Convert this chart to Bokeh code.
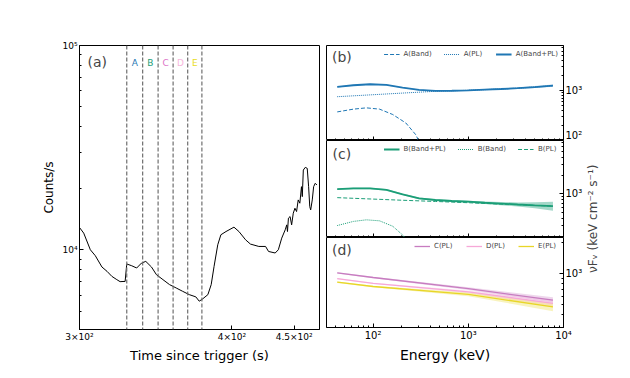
import math
from bokeh.plotting import figure
from bokeh.layouts import row, column
from bokeh.models import FixedTicker, Label, Legend, LegendItem, Span, Range1d
from bokeh.core.properties import value
from bokeh.embed import file_html
from bokeh.resources import INLINE

FONT = "DejaVu Sans"

# ---------------- Panel (a): light curve ----------------
lc_time = [300.0, 302.4, 306.2, 309.1, 313.0, 316.0, 318.9, 321.9, 323.9, 327.0, 328.0, 331.1,
           334.2, 337.3, 340.0, 343.7, 346.9, 351.2, 355.6, 360.1, 364.5, 369.1, 373.7, 376.1,
           378.6, 382.3, 384.7, 386.8, 389.5, 391.8, 395.6, 401.6, 405.4, 410.5, 414.3, 420.9,
           426.3, 428.7, 434.1, 436.7, 439.5, 442.4, 443.7, 444.3, 445.1, 446.5, 447.8, 449.2,
           450.6, 452.0, 453.4, 454.8, 456.2, 456.9, 457.8, 459.5, 461.2, 462.4, 463.4, 464.2,
           465.6, 466.8, 468.2, 469.7]
lc_counts = [12850, 12060, 10000, 9350, 8230, 7840, 7410, 7140, 6980, 7000, 8520, 8350,
             8140, 8610, 8770, 8230, 7550, 7140, 6750, 6500, 6260, 6030, 5880, 5600,
             5750, 6030, 6750, 8290, 10580, 11840, 12280, 12900, 12280, 11190, 10660, 10380,
             10380, 9810, 9640, 10000, 11400, 12520, 13240, 12280, 14280, 14540, 13240, 15100,
             15970, 15380, 17540, 16900, 20360, 18200, 24560, 25320, 25030, 20360, 16260, 15670,
             17540, 20360, 21150, 20750]

interval_edges = [328, 338, 348, 358, 368, 378]
interval_names = ["A", "B", "C", "D", "E"]
interval_colors = ["#1f77b4", "#1b9e77", "#dd77c8", "#f7b6dc", "#e8dc20"]
interval_label_time = [333, 343, 353, 363, 373]
interval_label_counts = [82000] * 5

lc_xrange = (300, 472)
lc_yrange = (4070, 100000)
lc_xticks = [300, 400, 450]
lc_xtick_labels = {300: "3×10²", 400: "4×10²", 450: "4.5×10²"}
lc_yticks = [10000, 100000]
lc_yminor = [5000, 6000, 7000, 8000, 9000, 20000, 30000, 40000, 50000, 60000, 70000, 80000, 90000]
lc_ytick_labels = {10000: "10⁴", 100000: "10⁵"}

# ---------------- Spectral panels ----------------
E_tot = [42, 62, 93, 138, 204, 304, 452, 672, 1000, 1490, 2200, 3300, 5000, 7750]
A_tot = [1165, 1260, 1320, 1280, 1130, 1015, 970, 980, 1000, 1030, 1060, 1100, 1160, 1240]
A_lo = [1135, 1230, 1290, 1250, 1105, 992, 950, 958, 975, 1000, 1025, 1058, 1105, 1170]
A_hi = [1195, 1290, 1350, 1310, 1155, 1038, 990, 1002, 1025, 1062, 1095, 1142, 1215, 1310]
E_pl = [42, 93, 204, 452, 1000, 2200, 3300, 7750]
A_pl = [745, 810, 880, 955, 1000, 1060, 1100, 1235]
E_band_A = [42, 62, 85, 117, 161, 221, 281, 304, 330]
A_band = [371, 421, 447, 421, 329, 223, 130, 95, 70]

B_tot = [1193, 1226, 1226, 1166, 985, 845, 794, 765, 745, 716, 695, 671, 650, 631]
B_lo = [1160, 1195, 1195, 1135, 960, 820, 770, 740, 715, 682, 652, 620, 580, 530]
B_hi = [1225, 1258, 1258, 1197, 1010, 870, 818, 792, 775, 752, 740, 725, 730, 745]
B_pl = [868, 826, 787, 752, 717, 680, 667, 631]
E_band_B = [42, 62, 85, 117, 161, 205, 230, 260]
B_band = [304, 355, 377, 363, 296, 212, 170, 130]

E_d = [42, 100, 1000, 7750]
C_pl = [1013, 915, 716, 554]
C_lo = [1000, 900, 695, 525]
C_hi = [1026, 930, 737, 590]
D_pl = [891, 805, 667, 516]
D_lo = [880, 795, 645, 480]
D_hi = [902, 815, 688, 552]
E_pl_d = [825, 750, 630, 478]
E_lo_d = [812, 738, 605, 435]
E_hi_d = [838, 762, 655, 522]

colA = "#1f77b4"
colB = "#1b9e77"
colC = "#c77cc0"
colD = "#f6a8d8"
colE = "#e8d628"

spec_xrange = (32.4, 10000)
spec_xticks = [100, 1000, 10000]
spec_xminor = [40, 50, 60, 70, 80, 90, 200, 300, 400, 500, 600, 700, 800, 900,
               2000, 3000, 4000, 5000, 6000, 7000, 8000, 9000]
spec_xtick_labels = {100: "10²", 1000: "10³", 10000: "10⁴"}
spec_xtick_blank = {100: "", 1000: "", 10000: ""}
spec_yticks = [100, 1000, 10000]
spec_yminor = [200, 300, 400, 500, 600, 700, 800, 900, 2000, 3000, 4000, 5000, 6000, 7000, 8000, 9000]
spec_ytick_labels = {100: "10²", 1000: "10³", 10000: "10⁴"}
yrange_b = (100, 7800)
yrange_c = (194, 7440)
yrange_d = (303, 2215)


def frac_log(lo, hi, f):
    return 10 ** (math.log10(lo) + f * (math.log10(hi) - math.log10(lo)))


def style_axes(p, lab_size="9px"):
    for ax in p.axis:
        ax.major_tick_in = 4
        ax.major_tick_out = 0
        ax.minor_tick_in = 2
        ax.minor_tick_out = 0
        ax.axis_line_color = "black"
        ax.major_tick_line_color = "black"
        ax.minor_tick_line_color = "black"
        ax.major_label_text_font = FONT
        ax.major_label_text_font_size = lab_size
        ax.major_label_text_color = "black"
        ax.axis_label_text_font = FONT
        ax.axis_label_text_font_style = "normal"
        ax.axis_label_text_color = "black"
        ax.axis_label_text_font_size = "13px"
        ax.major_label_standoff = 2
        ax.axis_label_standoff = 3
    p.xgrid.visible = False
    p.ygrid.visible = False
    p.outline_line_color = "black"
    p.outline_line_alpha = 1.0
    p.background_fill_color = "white"
    p.border_fill_color = "white"


TOP = 45
BOTTOM = 35

# ---- panel a ----
pa = figure(width=322, height=TOP + 285 + BOTTOM, x_axis_type="log", y_axis_type="log",
            x_range=Range1d(*lc_xrange), y_range=Range1d(*lc_yrange),
            output_backend="svg", toolbar_location=None,
            min_border_left=79, min_border_right=3, min_border_top=TOP, min_border_bottom=BOTTOM)
style_axes(pa, "9px")
pa.xaxis.ticker = FixedTicker(ticks=lc_xticks, minor_ticks=[])
pa.xaxis.major_label_overrides = lc_xtick_labels
pa.yaxis.ticker = FixedTicker(ticks=lc_yticks, minor_ticks=lc_yminor)
pa.yaxis.major_label_overrides = lc_ytick_labels
pa.xaxis.axis_label = "Time since trigger (s)"
pa.xaxis.axis_label_text_font_size = "13px"
pa.yaxis.axis_label = "Counts/s"
pa.yaxis.axis_label_text_font_size = "12px"

for t in interval_edges:
    pa.add_layout(Span(location=t, dimension="height", line_color="#6e6e6e",
                       line_dash="4 2", line_width=1.2))
pa.line(lc_time, lc_counts, line_color="black", line_width=1.0)
pa.text(x=interval_label_time, y=interval_label_counts, text=interval_names,
        text_color=interval_colors, text_align="center", text_baseline="middle",
        text_font_size="9px", text_font=value(FONT))
pa.add_layout(Label(x=frac_log(*lc_xrange, 0.074), y=frac_log(*lc_yrange, 0.941), text="(a)",
                    text_align="center", text_baseline="middle", text_font_size="14px",
                    text_font=FONT))

# ---- spectral panels ----
shared_x = Range1d(*spec_xrange)


def spec_fig(height, yr, top, bottom, show_x):
    p = figure(width=4 + 241 + 18, height=height, x_axis_type="log", y_axis_type="log",
               x_range=shared_x, y_range=Range1d(*yr), y_axis_location="right",
               output_backend="svg", toolbar_location=None,
               min_border_left=4, min_border_right=18, min_border_top=top,
               min_border_bottom=bottom)
    style_axes(p, "10px")
    p.xaxis.ticker = FixedTicker(ticks=spec_xticks, minor_ticks=spec_xminor)
    p.yaxis.ticker = FixedTicker(ticks=spec_yticks, minor_ticks=spec_yminor)
    p.yaxis.major_label_overrides = spec_ytick_labels
    if show_x:
        p.xaxis.major_label_overrides = spec_xtick_labels
    else:
        p.xaxis.major_label_overrides = spec_xtick_blank
        p.xaxis.major_label_standoff = 0
    return p


def add_legend(p, items):
    lg = Legend(items=[LegendItem(label=l, renderers=[r]) for l, r in items],
                orientation="horizontal", location="top_right",
                background_fill_alpha=0, border_line_alpha=0,
                label_text_font_size="7px", label_text_font=FONT,
                glyph_width=16, glyph_height=8, spacing=12, padding=2, margin=3,
                label_standoff=4, label_height=8)
    p.add_layout(lg)


def panel_label(p, yr, txt, fy):
    p.add_layout(Label(x=frac_log(*spec_xrange, 0.065), y=frac_log(*yr, fy), text=txt,
                       text_align="center", text_baseline="middle", text_font_size="14px",
                       text_font=FONT))


# panel b
pb = spec_fig(TOP + 95, yrange_b, TOP, 0, False)
pb.varea(x=E_tot, y1=A_lo, y2=A_hi, fill_color=colA, fill_alpha=0.35)
rb1 = pb.line(E_band_A, A_band, line_color=colA, line_dash="4 2", line_width=1.0)
rb2 = pb.line(E_pl, A_pl, line_color=colA, line_dash="1 1", line_width=1.0)
rb3 = pb.line(E_tot, A_tot, line_color=colA, line_width=1.8)
add_legend(pb, [("A(Band)", rb1), ("A(PL)", rb2), ("A(Band+PL)", rb3)])
panel_label(pb, yrange_b, "(b)", 0.877)

# panel c
pc = spec_fig(97, yrange_c, 0, 0, False)
pc.varea(x=E_tot, y1=B_lo, y2=B_hi, fill_color=colB, fill_alpha=0.4)
rc3 = pc.line(E_tot, B_tot, line_color=colB, line_width=1.8)
rc1 = pc.line(E_band_B, B_band, line_color=colB, line_dash="1 1", line_width=1.0)
rc2 = pc.line(E_pl, B_pl, line_color=colB, line_dash="4 2", line_width=1.0)
add_legend(pc, [("B(Band+PL)", rc3), ("B(Band)", rc1), ("B(PL)", rc2)])
panel_label(pc, yrange_c, "(c)", 0.863)

# panel d
pd_ = spec_fig(93 + BOTTOM, yrange_d, 0, BOTTOM, True)
pd_.varea(x=E_d, y1=C_lo, y2=C_hi, fill_color=colC, fill_alpha=0.3)
pd_.varea(x=E_d, y1=D_lo, y2=D_hi, fill_color=colD, fill_alpha=0.3)
pd_.varea(x=E_d, y1=E_lo_d, y2=E_hi_d, fill_color=colE, fill_alpha=0.3)
rd1 = pd_.line(E_d, C_pl, line_color=colC, line_width=1.3)
rd2 = pd_.line(E_d, D_pl, line_color=colD, line_width=1.3)
rd3 = pd_.line(E_d, E_pl_d, line_color=colE, line_width=1.3)
add_legend(pd_, [("C(PL)", rd1), ("D(PL)", rd2), ("E(PL)", rd3)])
panel_label(pd_, yrange_d, "(d)", 0.86)
pd_.xaxis.axis_label = "Energy (keV)"
pd_.xaxis.axis_label_text_font_size = "14px"

# ---- shared y-axis title for the spectral column ----
plab = figure(width=28, height=TOP + 285 + BOTTOM, x_range=Range1d(0, 1), y_range=Range1d(0, 1),
              x_axis_location=None, y_axis_location=None, output_backend="svg",
              toolbar_location=None, min_border_left=0, min_border_right=0,
              min_border_top=TOP, min_border_bottom=BOTTOM)
plab.outline_line_color = None
plab.xgrid.visible = False
plab.ygrid.visible = False
plab.add_layout(Label(x=0.25, y=0.39, text="νFᵥ (keV cm⁻² s⁻¹)", angle=math.pi / 2,
                      text_align="center", text_baseline="middle", text_font_size="12px",
                      text_font=FONT))

layout = row(pa, column(pb, pc, pd_, spacing=0), plab, spacing=0)

open("out.html", "w").write(file_html(layout, INLINE))
